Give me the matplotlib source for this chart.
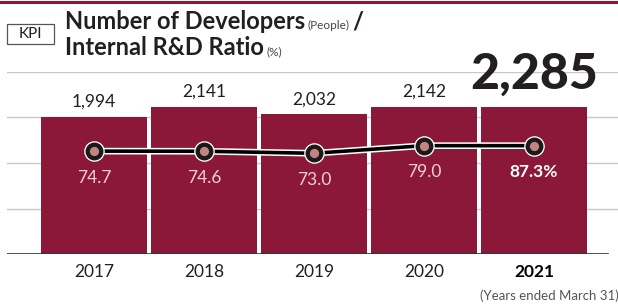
import matplotlib
matplotlib.use("Agg")
import matplotlib.pyplot as plt
import matplotlib.patheffects as pe
from matplotlib.patches import Rectangle
import numpy as np

plt.rcParams['font.family'] = ['Lato', 'DejaVu Sans']

# ---- data ----
years = ["2017", "2018", "2019", "2020", "2021"]
developers = [1994, 2141, 2032, 2142, 2285]            # labelled values
developers_drawn = [1994, 2141, 2032, 2142, 2142]      # bar heights as drawn in the picture
ratio = [74.7, 74.6, 73.0, 79.0, 87.3]                  # labelled values
ratio_drawn = [74.7, 74.6, 73.0, 79.0, 79.0]            # point heights as drawn in the picture
ratio_labels = ["74.7", "74.6", "73.0", "79.0", "87.3%"]
dev_labels = ["1,994", "2,141", "2,032", "2,142", "2,285"]

BAR = "#8b1838"
DARK = "#231f20"

W, H = 618, 305
fig = plt.figure(figsize=(W / 100, H / 100), dpi=100)

# axes spans pixels x 7..618, y 72..254
ax = fig.add_axes([7 / W, (H - 254) / H, (618 - 7) / W, (254 - 72) / H])
x = np.arange(len(years))
ax.set_xlim(-0.79, 4.764)
top = 2648
ax.set_ylim(0, top)
ax.bar(x, developers_drawn, width=0.964, color=BAR, zorder=2)
ax.set_yticks(np.linspace(0, top, 5)[1:])
ax.yaxis.grid(True, color="#c8c8c8", lw=1.0, zorder=0)
ax.set_axisbelow(True)
for s in ax.spines.values():
    s.set_visible(False)
ax.axhline(0, xmin=0, xmax=(608 - 7) / 611, color="#333333", lw=1.2, zorder=3)
ax.tick_params(axis="y", length=0, labelleft=False)
ax.tick_params(axis="x", length=0, pad=7)
ax.set_xticks(x)
ax.set_xticklabels(years, fontsize=12.5, color=DARK)
for t in ax.get_xticklabels()[-1:]:
    t.set_fontweight("bold")
    t.set_color("#000000")

# labels above bars (first four)
for i in range(4):
    ax.annotate(dev_labels[i], (x[i], developers_drawn[i]), xytext=(0, 5),
                textcoords="offset points", ha="center", va="bottom",
                fontsize=12.5, color=DARK, clip_on=False)
# big 2021 label
ax.annotate(dev_labels[4], (x[4], developers_drawn[4]), xytext=(0, 7),
            textcoords="offset points", ha="center", va="bottom",
            fontsize=36, fontweight="black", color=DARK, clip_on=False)

# ratio line
ax2 = ax.twinx()
ax2.set_ylim(-6.3, 137)
ax2.axis("off")
ax2.plot(x, ratio_drawn, color="black", lw=2.6, zorder=3,
         path_effects=[pe.Stroke(linewidth=4.8, foreground="white"), pe.Normal()])
ax2.plot(x, ratio_drawn, ls="none", marker="o", ms=9.8, mfc="none",
         mec="white", mew=5.0, zorder=4)
ax2.plot(x, ratio_drawn, ls="none", marker="o", ms=9.8, mfc="#c58283",
         mec="#1a1a1a", mew=3.1, zorder=5)
for i in range(5):
    bold = i == 4
    ax2.annotate(ratio_labels[i], (x[i], ratio_drawn[i]), xytext=(0, -19),
                 textcoords="offset points", ha="center", va="center",
                 fontsize=12.5, fontweight="bold" if bold else "normal",
                 color="white" if bold else "#efcfd8", zorder=6)

# top red rule
fig.add_artist(plt.Line2D([0, 1], [1 - 1.5 / H, 1 - 1.5 / H], color=BAR, lw=2.2))

# KPI box
fig.add_artist(Rectangle((7 / W, 1 - 44 / H), 47 / W, 20 / H, fill=False,
                         ec="#555555", lw=0.9))
fig.text(30.5 / W, 1 - 34 / H, "KPI", ha="center", va="center", fontsize=11,
         color=DARK)

# title
TS = 17
t1 = fig.text(65 / W, 1 - 29 / H, "Number of Developers", fontsize=TS,
              fontweight="bold", color=DARK, va="baseline")
fig.canvas.draw()
r = fig.canvas.get_renderer()
bb = t1.get_window_extent(r)
t1b = fig.text((bb.x1 + 2) / W, 1 - 29 / H, "(People)", fontsize=8.5,
               color="#444444", va="baseline")
bb2 = t1b.get_window_extent(r)
fig.text((bb2.x1 + 3) / W, 1 - 29 / H, "/", fontsize=TS, fontweight="bold",
         color=DARK, va="baseline")
t2 = fig.text(65 / W, 1 - 55 / H, "Internal R&D Ratio", fontsize=TS,
              fontweight="bold", color=DARK, va="baseline")
bb3 = t2.get_window_extent(r)
fig.text((bb3.x1 + 3) / W, 1 - 55 / H, "(%)", fontsize=8.5, color="#444444",
         va="baseline")

# footnote
fig.text(619 / W, 1 - 296 / H, "(Years ended March 31)", ha="right",
         va="center", fontsize=9.5, color="#555555")

fig.savefig("out.png", dpi=100)
